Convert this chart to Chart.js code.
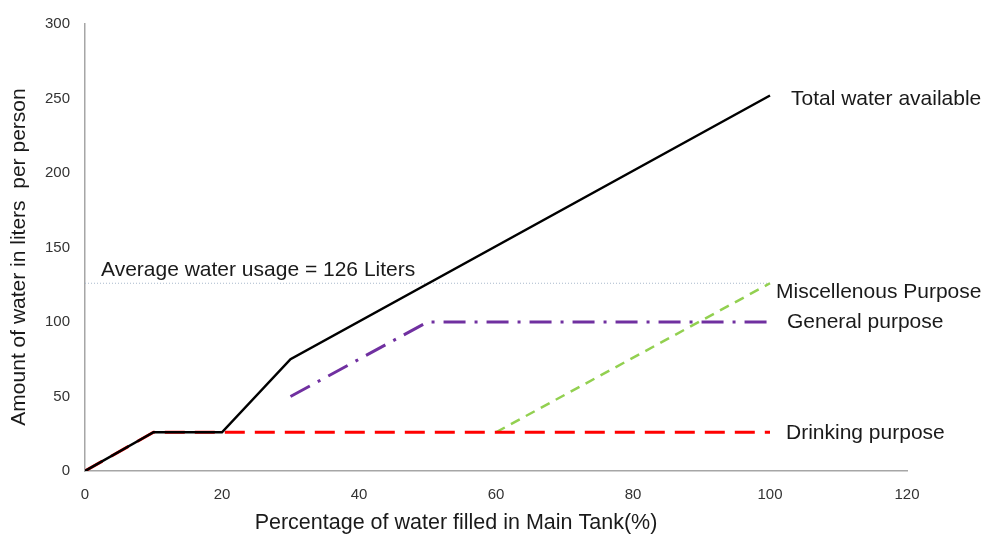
<!DOCTYPE html>
<html>
<head>
<meta charset="utf-8">
<script src="https://cdn.jsdelivr.net/npm/chart.js@4/dist/chart.umd.min.js"></script>
<style>
  html, body { margin: 0; padding: 0; background: #fff; }
  #wrap { width: 983px; height: 536px; position: relative; }
</style>
</head>
<body>
<div id="wrap"><canvas id="waterChart"></canvas></div>
<script>
// data
const totalX = [0, 10, 20, 30, 100];
const totalY = [0, 26, 26, 75, 252];
const drinkingX = [0, 10, 20, 100];
const drinkingY = [0, 26, 26, 26];
const generalX = [30, 50, 100];
const generalY = [50, 100, 100];
const miscX = [60, 100];
const miscY = [26, 126];
const averageX = [0, 100];
const averageY = [126, 126];

const seriesNames = ['Total water available', 'Miscellenous Purpose', 'General purpose', 'Drinking purpose'];
const averageLabel = 'Average water usage = 126 Liters';
const xTitle = 'Percentage of water filled in Main Tank(%)';
const yTitle = 'Amount of water in liters  per person';

const toPoints = (xs, ys) => xs.map((x, i) => ({ x: x, y: ys[i] }));

const textFont = '"Liberation Sans", Arial, sans-serif';

// text next to the lines, anchored on data values, nudged in pixels
const lineLabels = {
    id: 'lineLabels',
    afterDatasetsDraw(chart) {
        const { ctx, scales: { x, y } } = chart;
        const items = [
            { text: seriesNames[0], x: totalX[totalX.length - 1], y: totalY[totalY.length - 1], dx: 21, dy: 4 },
            { text: seriesNames[1], x: miscX[miscX.length - 1], y: miscY[miscY.length - 1], dx: 6, dy: 9 },
            { text: seriesNames[2], x: generalX[generalX.length - 1], y: generalY[generalY.length - 1], dx: 17, dy: 0 },
            { text: seriesNames[3], x: drinkingX[drinkingX.length - 1], y: drinkingY[drinkingY.length - 1], dx: 16, dy: 1 },
            { text: averageLabel, x: averageX[0], y: averageY[0], dx: 16, dy: -13 }
        ];
        ctx.save();
        ctx.font = '21px ' + textFont;
        ctx.fillStyle = '#1a1a1a';
        ctx.textBaseline = 'middle';
        ctx.textAlign = 'left';
        items.forEach(it => {
            ctx.fillText(it.text, x.getPixelForValue(it.x) + it.dx, y.getPixelForValue(it.y) + it.dy);
        });

        // axis titles
        ctx.textAlign = 'center';
        ctx.font = '21.5px ' + textFont;
        ctx.fillText(xTitle, 456, 523);
        ctx.translate(19, 257);
        ctx.rotate(-Math.PI / 2);
        ctx.font = '21px ' + textFont;
        ctx.fillText(yTitle, 0, 0);
        ctx.restore();
    }
};

const ctx = document.getElementById('waterChart').getContext('2d');
new Chart(ctx, {
    type: 'line',
    data: {
        datasets: [
            {
                label: seriesNames[0],
                data: toPoints(totalX, totalY),
                borderColor: '#000000',
                borderWidth: 2.5,
                pointRadius: 0,
                tension: 0
            },
            {
                label: seriesNames[3],
                data: toPoints(drinkingX, drinkingY),
                borderColor: '#ff0000',
                borderWidth: 3,
                borderDash: [20, 10],
                pointRadius: 0
            },
            {
                label: seriesNames[2],
                data: toPoints(generalX, generalY),
                borderColor: '#7030a0',
                borderWidth: 3,
                borderDash: [22, 9, 3, 9],
                pointRadius: 0
            },
            {
                label: seriesNames[1],
                data: toPoints(miscX, miscY),
                borderColor: '#92d050',
                borderWidth: 2.5,
                borderDash: [10, 7],
                pointRadius: 0
            },
            {
                label: averageLabel,
                data: toPoints(averageX, averageY),
                borderColor: '#a9b9cc',
                borderWidth: 1,
                borderDash: [1, 2],
                pointRadius: 0
            }
        ]
    },
    options: {
        responsive: true,
        maintainAspectRatio: false,
        animation: false,
        layout: {
            padding: { left: 0, right: 76, top: 19, bottom: 0 }
        },
        plugins: {
            legend: { display: false },
            tooltip: { enabled: false }
        },
        scales: {
            x: {
                type: 'linear',
                min: 0,
                max: 120,
                ticks: {
                    stepSize: 20,
                    padding: 15,
                    color: '#333333',
                    font: { family: textFont, size: 15 }
                },
                grid: { display: false, drawTicks: false },
                border: { display: true, color: '#a6a6a6', width: 1.5 },
                afterFit: s => { s.height = 65; }
            },
            y: {
                min: 0,
                max: 300,
                ticks: {
                    stepSize: 50,
                    padding: 15,
                    color: '#333333',
                    font: { family: textFont, size: 15 }
                },
                grid: { display: false, drawTicks: false },
                border: { display: true, color: '#a6a6a6', width: 1.5 },
                afterFit: s => { s.width = 85; }
            }
        }
    },
    plugins: [lineLabels]
});
</script>
</body>
</html>
